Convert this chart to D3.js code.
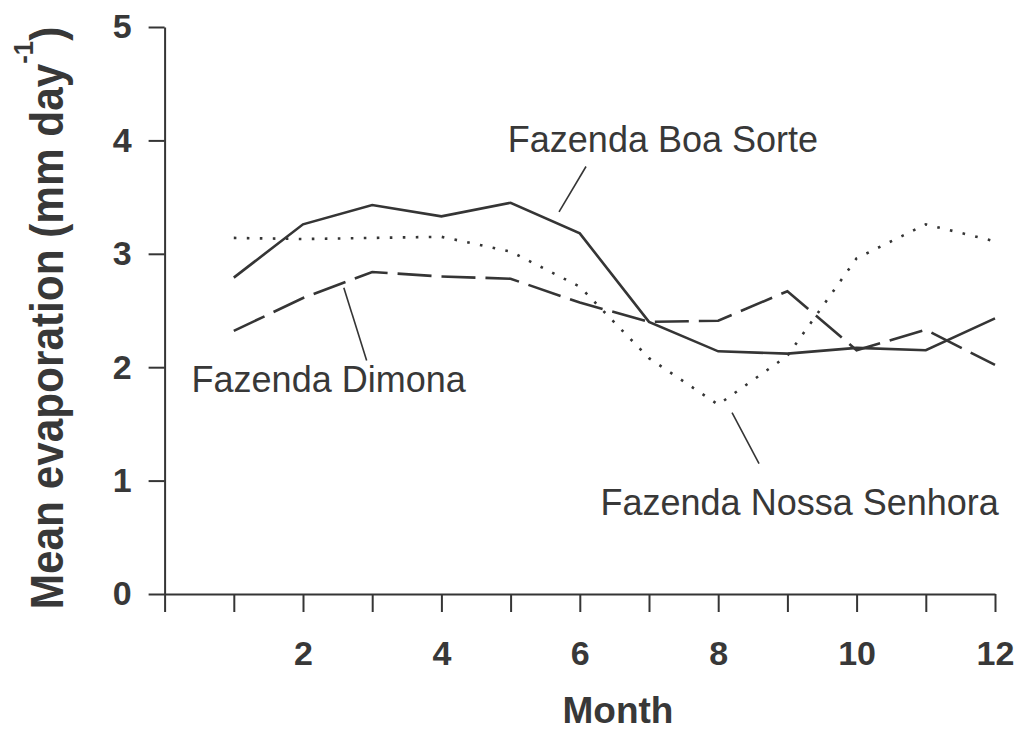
<!DOCTYPE html>
<html>
<head>
<meta charset="utf-8">
<script src="https://cdn.jsdelivr.net/npm/d3@7"></script>
<style>
  html, body { margin: 0; padding: 0; background: #fff; }
  svg { display: block; }
  text { font-family: "Liberation Sans", Arial, Helvetica, sans-serif; fill: #383838; }
</style>
</head>
<body>
<svg id="chart" width="1019" height="732"></svg>
<script>
// Monthly mean evaporation at three farms
const months = [1, 2, 3, 4, 5, 6, 7, 8, 9, 10, 11, 12];
const boaSorte     = [2.79, 3.26, 3.43, 3.33, 3.45, 3.18, 2.40, 2.14, 2.12, 2.17, 2.15, 2.43];
const nossaSenhora = [3.14, 3.13, 3.14, 3.15, 3.02, 2.71, 2.08, 1.67, 2.10, 2.96, 3.26, 3.11];
const dimona       = [2.32, 2.61, 2.84, 2.80, 2.78, 2.57, 2.40, 2.41, 2.67, 2.15, 2.33, 2.02];

const xTicks = [0, 1, 2, 3, 4, 5, 6, 7, 8, 9, 10, 11, 12];
const xTickLabels = ["", "", "2", "", "4", "", "6", "", "8", "", "10", "", "12"];
const yTicks = [0, 1, 2, 3, 4, 5];

// Series names with label anchor and leader line, in data units
const seriesNames = ["Fazenda Boa Sorte", "Fazenda Nossa Senhora", "Fazenda Dimona"];
const labelAt  = [[4.96, 3.90], [6.30, 0.70], [0.39, 1.78]];
const leaderFrom = [[6.09, 3.77], [8.20, 1.60], [2.59, 2.70]];
const leaderTo   = [[5.70, 3.37], [8.59, 1.15], [2.92, 2.06]];

const svg = d3.select("#chart");
const ink = "#353535";

const x = d3.scaleLinear().domain([0, 12]).range([164.6, 995]);
const y = d3.scaleLinear().domain([0, 5]).range([594, 27]);

// Axes
const gx = svg.append("g").attr("transform", `translate(0,${y(0)})`)
  .call(d3.axisBottom(x).tickValues(xTicks).tickSize(18).tickSizeOuter(0)
    .tickPadding(29).tickFormat((d, i) => xTickLabels[i]));
const gy = svg.append("g").attr("transform", `translate(${x(0)},0)`)
  .call(d3.axisLeft(y).tickValues(yTicks).tickSize(16).tickSizeOuter(0)
    .tickPadding(17).tickFormat(d3.format("d")));

[gx, gy].forEach(g => {
  g.selectAll("path.domain").attr("stroke", ink).attr("stroke-width", 2);
  g.selectAll(".tick line").attr("stroke", ink).attr("stroke-width", 2);
  g.selectAll(".tick text")
    .attr("fill", "#383838")
    .style("font-family", '"Liberation Sans", Arial, sans-serif')
    .style("font-size", "34px")
    .style("font-weight", "bold");
});

// Axis titles
svg.append("text")
  .attr("x", 618).attr("y", 723)
  .attr("text-anchor", "middle")
  .style("font-size", "37px").style("font-weight", "bold")
  .text("Month");

const yt = svg.append("text")
  .attr("transform", "translate(63,318) rotate(-90) scale(0.92,1)")
  .attr("text-anchor", "middle")
  .style("font-size", "46px").style("font-weight", "bold");
yt.append("tspan").text("Mean evaporation (mm day");
yt.append("tspan").attr("dy", -30).style("font-size", "28px").text("-1");
yt.append("tspan").attr("dy", 30).text(")");

// Series lines
const line = d3.line().x((d, i) => x(months[i])).y(d => y(d));
const series = [
  { values: boaSorte, dash: null },
  { values: nossaSenhora, dash: "2.6,10.4" },
  { values: dimona, dash: "34,10" }
];
svg.append("g").selectAll("path")
  .data(series)
  .join("path")
  .attr("d", s => line(s.values))
  .attr("fill", "none")
  .attr("stroke", ink)
  .attr("stroke-width", 2.6)
  .attr("stroke-dasharray", s => s.dash);

// Leader lines and series labels
svg.append("g").selectAll("line")
  .data(seriesNames)
  .join("line")
  .attr("x1", (d, i) => x(leaderFrom[i][0])).attr("y1", (d, i) => y(leaderFrom[i][1]))
  .attr("x2", (d, i) => x(leaderTo[i][0])).attr("y2", (d, i) => y(leaderTo[i][1]))
  .attr("stroke", ink).attr("stroke-width", 1.6);

svg.append("g").selectAll("text")
  .data(seriesNames)
  .join("text")
  .attr("x", (d, i) => x(labelAt[i][0]))
  .attr("y", (d, i) => y(labelAt[i][1]))
  .style("font-size", "36px")
  .attr("fill", "#404040")
  .text(d => d);
</script>
</body>
</html>
